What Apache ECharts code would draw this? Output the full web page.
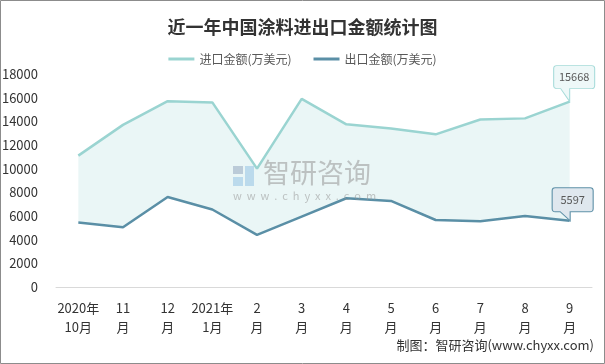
<!DOCTYPE html>
<html><head><meta charset="utf-8">
<script src="https://cdn.jsdelivr.net/npm/echarts@6/dist/echarts.min.js"></script>
<style>html,body{margin:0;padding:0;background:#fff}#c{width:605px;height:364px}</style>
</head><body><div id="c"></div>
<script>
const categories = ['2020年\n10月','11\n月','12\n月','2021年\n1月','2\n月','3\n月','4\n月','5\n月','6\n月','7\n月','8\n月','9\n月'];
const importValues = [11100, 13700, 15700, 15600, 10000, 15900, 13750, 13400, 12900, 14150, 14250, 15668];
const exportValues = [5450, 5050, 7600, 6550, 4400, 5950, 7500, 7270, 5660, 5560, 6000, 5597];
const yTicks = [0, 2000, 4000, 6000, 8000, 10000, 12000, 14000, 16000, 18000];

const band = importValues.map((v, i) => v - exportValues[i]);
const FONT = '"Noto Sans CJK SC","Noto Sans",sans-serif';
const last = categories.length - 1;

const bubbleImp = 'path://M3,0 L38,0 Q41,0 41,3 L41,20 Q41,23 38,23 L16,23 L16,36 L7,23 L3,23 Q0,23 0,20 L0,3 Q0,0 3,0 Z';
const bubbleExp = 'path://M3,0 L38,0 Q41,0 41,3 L41,21 Q41,24 38,24 L18,24 L18,33 L8,24 L3,24 Q0,24 0,21 L0,3 Q0,0 3,0 Z';
const WM = 'rgba(150,150,150,0.55)';

const chart = echarts.init(document.getElementById('c'), null, {renderer: 'canvas'});
chart.setOption({
  animation: false,
  backgroundColor: '#fff',
  title: {
    text: '近一年中国涂料进出口金额统计图', left: 'center', top: 13,
    textStyle: {fontFamily: FONT, fontSize: 18, fontWeight: 'bold', color: '#333'}
  },
  legend: {
    top: 48, left: 'center', itemGap: 22, itemWidth: 26, itemHeight: 3, icon: 'rect',
    data: ['进口金额(万美元)', '出口金额(万美元)'],
    textStyle: {fontFamily: FONT, fontSize: 12, color: '#595959'}
  },
  grid: {left: 56, right: 13, top: 74, bottom: 77, containLabel: false, outerBoundsMode: 'none'},
  xAxis: {
    type: 'category', data: categories, boundaryGap: true,
    axisLine: {lineStyle: {color: '#d9d9d9', width: 1}},
    axisTick: {show: false},
    axisLabel: {interval: 0, margin: 12, fontFamily: FONT, fontSize: 13, color: '#333', lineHeight: 19}
  },
  yAxis: {
    type: 'value', min: yTicks[0], max: yTicks[yTicks.length - 1], interval: yTicks[1] - yTicks[0],
    axisLine: {show: false}, axisTick: {show: false}, splitLine: {show: false},
    axisLabel: {margin: 18, fontFamily: FONT, fontSize: 13, color: '#333', formatter: v => String(v)}
  },
  graphic: [
    {type: 'rect', z: 100, shape: {x: 0.5, y: 0.5, width: 604, height: 363}, style: {fill: 'none', stroke: '#8c8c8c', lineWidth: 1}},
    {type: 'text', z: 10, right: 11, top: 339, style: {text: '制图：智研咨询(www.chyxx.com)', font: '13px ' + FONT, fill: '#333'}},
    {type: 'rect', z: 10, left: 233, top: 166, shape: {x: 0, y: 0, width: 10, height: 8}, style: {fill: 'rgba(130,150,180,0.45)'}},
    {type: 'rect', z: 10, left: 245, top: 166, shape: {x: 0, y: 0, width: 9, height: 20}, style: {fill: 'rgba(140,190,225,0.5)'}},
    {type: 'rect', z: 10, left: 233, top: 177, shape: {x: 0, y: 0, width: 10, height: 9}, style: {fill: 'rgba(140,190,225,0.5)'}},
    {type: 'text', z: 10, left: 263, top: 159, style: {text: '智研咨询', font: '27px ' + FONT, fill: WM}},
    {type: 'text', z: 10, left: 233, top: 190, style: {text: 'w  w  w  .  c  h  y  x  x  .  c  o  m', font: '11px ' + FONT, fill: WM}}
  ],
  series: [
    {
      name: 'base', type: 'line', stack: 'band', data: exportValues, silent: true,
      showSymbol: false, lineStyle: {opacity: 0}, z: 1
    },
    {
      name: 'fill', type: 'line', stack: 'band', data: band, silent: true,
      showSymbol: false, lineStyle: {opacity: 0}, areaStyle: {color: '#eaf6f6', opacity: 1}, z: 1
    },
    {
      name: '进口金额(万美元)', type: 'line', data: importValues, showSymbol: false,
      lineStyle: {color: '#9ad4d1', width: 2.5}, itemStyle: {color: '#9ad4d1'}, z: 3,
      markPoint: {
        symbol: bubbleImp, symbolSize: [41, 36], symbolOffset: [4.5, -18],
        itemStyle: {color: '#eef8f8', borderColor: '#a6dbd9', borderWidth: 1},
        label: {show: true, formatter: '{c}', offset: [0, -6.5], fontFamily: FONT, fontSize: 11, color: '#595959'},
        data: [{coord: [last, importValues[last]], value: importValues[last]}]
      }
    },
    {
      name: '出口金额(万美元)', type: 'line', data: exportValues, showSymbol: false,
      lineStyle: {color: '#5a8fa6', width: 2.5}, itemStyle: {color: '#5a8fa6'}, z: 3,
      markPoint: {
        symbol: bubbleExp, symbolSize: [41, 33], symbolOffset: [3, -16.5],
        itemStyle: {color: '#dfe7ee', borderColor: '#5f91a8', borderWidth: 1},
        label: {show: true, formatter: '{c}', offset: [0, -4.5], fontFamily: FONT, fontSize: 11, color: '#595959'},
        data: [{coord: [last, exportValues[last]], value: exportValues[last]}]
      }
    }
  ]
});
</script></body></html>
